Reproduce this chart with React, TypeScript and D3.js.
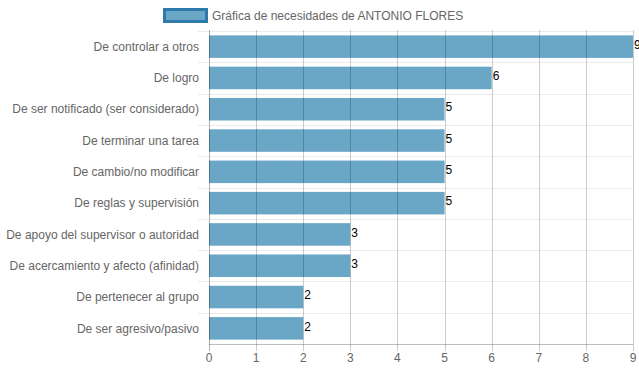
import { useRef, useEffect } from 'react';
import * as d3 from 'd3';

const categories = [
  'De controlar a otros',
  'De logro',
  'De ser notificado (ser considerado)',
  'De terminar una tarea',
  'De cambio/no modificar',
  'De reglas y supervisión',
  'De apoyo del supervisor o autoridad',
  'De acercamiento y afecto (afinidad)',
  'De pertenecer al grupo',
  'De ser agresivo/pasivo',
];
const values = [9, 6, 5, 5, 5, 5, 3, 3, 2, 2];
const xTicks = [0, 1, 2, 3, 4, 5, 6, 7, 8, 9];
const seriesName = 'Gráfica de necesidades de ANTONIO FLORES';

const FONT = '"Helvetica Neue", Helvetica, Arial, "Liberation Sans", sans-serif';
const BAR_FILL = '#6aa6c6';
const BAR_BORDER = '#2e7aab';

function App() {
  const svgRef = useRef<SVGSVGElement>(null);

  useEffect(() => {
    const svg = d3.select(svgRef.current);
    svg.selectAll('*').remove();

    const width = 639;
    const height = 372;
    const margin = { top: 31, right: 6, bottom: 28, left: 209 };

    const x = d3
      .scaleLinear()
      .domain([0, 9])
      .range([margin.left, width - margin.right]);

    const y = d3
      .scaleBand()
      .domain(categories)
      .range([margin.top, height - margin.bottom])
      .padding(0);

    const bw = y.bandwidth();
    const barH = bw * 0.72;

    // legend
    const legend = svg.append('g');
    legend
      .append('rect')
      .attr('x', 164.5)
      .attr('y', 9.5)
      .attr('width', 42)
      .attr('height', 12)
      .attr('fill', BAR_FILL)
      .attr('stroke', BAR_BORDER)
      .attr('stroke-width', 3);
    legend
      .append('text')
      .attr('x', 212)
      .attr('y', 20)
      .attr('font-family', FONT)
      .attr('font-size', 12)
      .attr('fill', '#666')
      .text(seriesName);

    // horizontal grid lines at band edges
    const edges = categories.map((c) => y(c) as number);
    svg
      .append('g')
      .selectAll('line')
      .data(edges)
      .enter()
      .append('line')
      .attr('x1', margin.left - 11)
      .attr('x2', width - margin.right)
      .attr('y1', (d) => Math.round(d) + 0.5)
      .attr('y2', (d) => Math.round(d) + 0.5)
      .attr('stroke', 'rgba(0,0,0,0.08)');

    // bars
    svg
      .append('g')
      .selectAll('rect')
      .data(values)
      .enter()
      .append('rect')
      .attr('x', x(0))
      .attr('y', (_, i) => (y(categories[i]) as number) + (bw - barH) / 2)
      .attr('width', (d) => x(d) - x(0))
      .attr('height', barH)
      .attr('fill', BAR_FILL);

    // vertical grid lines (drawn over bars)
    svg
      .append('g')
      .selectAll('line')
      .data(xTicks)
      .enter()
      .append('line')
      .attr('x1', (d) => Math.round(x(d)) + 0.5)
      .attr('x2', (d) => Math.round(x(d)) + 0.5)
      .attr('y1', margin.top - 1)
      .attr('y2', height - margin.bottom + 7)
      .attr('stroke', (d) => (d === 0 ? 'rgba(0,0,0,0.3)' : 'rgba(0,0,0,0.2)'));

    // x axis line
    svg
      .append('line')
      .attr('x1', margin.left)
      .attr('x2', width - margin.right)
      .attr('y1', height - margin.bottom + 0.5)
      .attr('y2', height - margin.bottom + 0.5)
      .attr('stroke', 'rgba(0,0,0,0.25)');

    // x tick labels
    svg
      .append('g')
      .selectAll('text')
      .data(xTicks)
      .enter()
      .append('text')
      .attr('x', (d) => x(d))
      .attr('y', height - margin.bottom + 18)
      .attr('text-anchor', 'middle')
      .attr('font-family', FONT)
      .attr('font-size', 12)
      .attr('fill', '#666')
      .text((d) => d);

    // y labels
    svg
      .append('g')
      .selectAll('text')
      .data(categories)
      .enter()
      .append('text')
      .attr('x', margin.left - 10)
      .attr('y', (d) => (y(d) as number) + bw / 2)
      .attr('dy', '0.35em')
      .attr('text-anchor', 'end')
      .attr('font-family', FONT)
      .attr('font-size', 12)
      .attr('fill', '#666')
      .text((d) => d);

    // value labels
    svg
      .append('g')
      .selectAll('text')
      .data(values)
      .enter()
      .append('text')
      .attr('x', (d) => x(d) + 1)
      .attr('y', (_, i) => (y(categories[i]) as number) + bw / 2 - 2)
      .attr('dy', '0.35em')
      .attr('font-family', FONT)
      .attr('font-size', 12)
      .attr('fill', '#000')
      .text((d) => d);

    return () => {
      svg.selectAll('*').remove();
    };
  }, []);

  return (
    <svg
      ref={svgRef}
      width={639}
      height={372}
      style={{ position: 'absolute', left: 0, top: 0 }}
    />
  );
}

export default App;
